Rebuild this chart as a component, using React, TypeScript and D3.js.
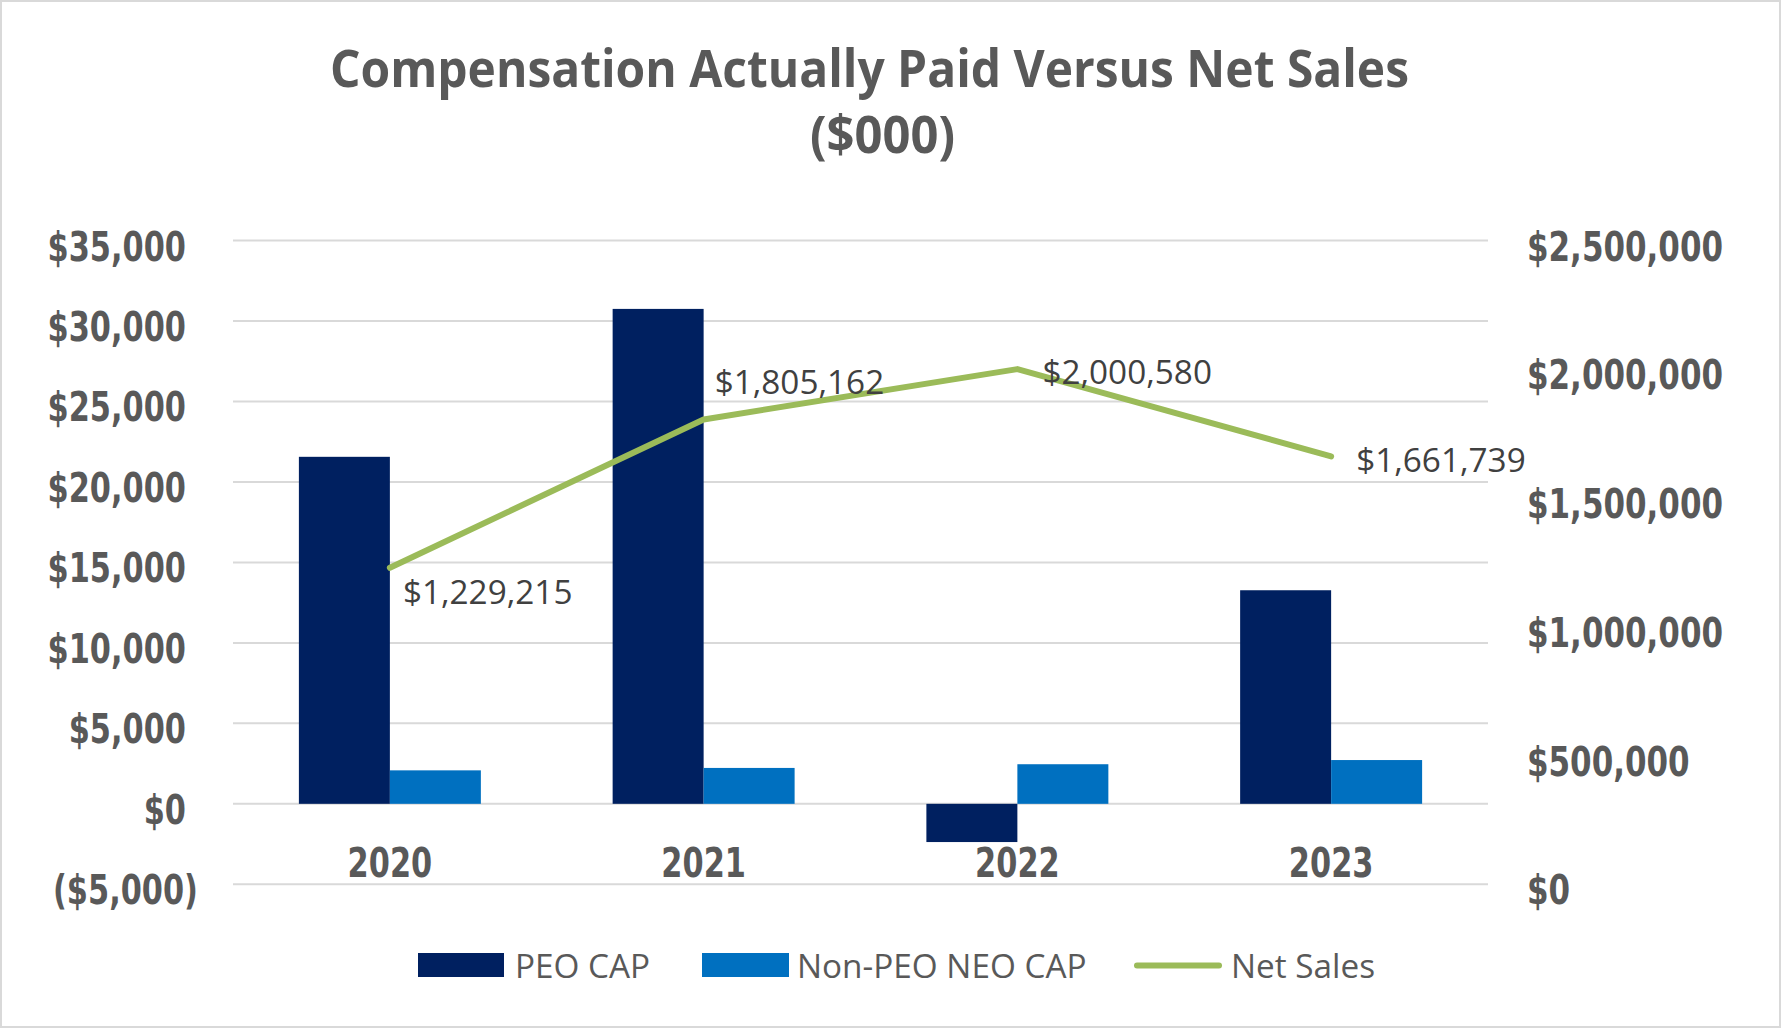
import React from 'react';
import * as d3 from 'd3';

// Fiscal years on the category axis
const years = ['2020', '2021', '2022', '2023'];
// Compensation actually paid, $000 (left axis)
const peoCap = [21560, 30750, -2375, 13270];
const nonPeoCap = [2080, 2230, 2460, 2720];
// Net sales, $000 (right axis)
const netSales = [1229215, 1805162, 2000580, 1661739];
// Axis ticks
const leftTicks = [-5000, 0, 5000, 10000, 15000, 20000, 25000, 30000, 35000];
const rightTicks = [0, 500000, 1000000, 1500000, 2000000, 2500000];
const seriesNames = ['PEO CAP', 'Non-PEO NEO CAP', 'Net Sales'];

// Placement of each net-sales value label relative to its point [dx, dy]
const labelOffsets: [number, number][] = [
  [13, 36],
  [11, -25],
  [25, 15],
  [25, 16],
];

const W = 1782;
const H = 1029;
const PEO_COLOR = '#002060';
const NON_PEO_COLOR = '#0070C0';
const LINE_COLOR = '#9BBB59';
const GRID = '#D9D9D9';
const AXIS_TEXT = '#595959';
const AXIS_FONT = '"DejaVu Sans", Verdana, sans-serif';
const TEXT_FONT = '"Open Sans", "Noto Sans", sans-serif';
const AXIS_SX = 0.76;

const plotLeft = 233;
const plotRight = 1488;
const plotTop = 240.5;
const plotBottom = 884.3;

const fmtMoney = d3.format('$,');
const fmtLeft = (v: number) => (v < 0 ? `(${fmtMoney(-v)})` : fmtMoney(v));

export default function App() {
  const x0 = d3
    .scaleBand<string>()
    .domain(years)
    .range([plotLeft, plotRight])
    .paddingInner(0.42)
    .paddingOuter(0.21);
  const x1 = d3
    .scaleBand<string>()
    .domain(seriesNames.slice(0, 2))
    .range([0, x0.bandwidth()]);
  const yL = d3.scaleLinear().domain([-5000, 35000]).range([plotBottom, plotTop]);
  const yR = d3.scaleLinear().domain([0, 2500000]).range([plotBottom, plotTop]);

  const cx = (yr: string) => (x0(yr) as number) + x0.bandwidth() / 2;
  const linePath = d3
    .line<number>()
    .x((_, i) => cx(years[i]))
    .y((d) => yR(d))(netSales) as string;

  const bars = [
    { name: seriesNames[0], values: peoCap, color: PEO_COLOR },
    { name: seriesNames[1], values: nonPeoCap, color: NON_PEO_COLOR },
  ];

  return (
    <svg
      width={W}
      height={H}
      viewBox={`0 0 ${W} ${H}`}
      style={{ position: 'absolute', left: 0, top: 0, display: 'block', background: '#fff' }}
    >
      <rect x={1} y={1} width={W - 3} height={H - 3} fill="#fff" stroke={GRID} strokeWidth={2} />

      {/* Title */}
      <g fill={AXIS_TEXT} fontFamily={TEXT_FONT} fontWeight={700} fontSize={52}>
        <text x={330} y={86.5} textLength={1079} lengthAdjust="spacingAndGlyphs">
          Compensation Actually Paid Versus Net Sales
        </text>
        <text x={810} y={153} textLength={145} lengthAdjust="spacingAndGlyphs">
          ($000)
        </text>
      </g>

      {/* Gridlines */}
      <g stroke={GRID} strokeWidth={2}>
        {leftTicks.map((t) => (
          <line key={t} x1={plotLeft} x2={plotRight} y1={yL(t)} y2={yL(t)} />
        ))}
      </g>

      {/* Left axis labels */}
      <g fill={AXIS_TEXT} fontFamily={AXIS_FONT} fontWeight={700} fontSize={40}>
        {leftTicks.map((t) => (
          <text
            key={t}
            textAnchor="end"
            transform={`translate(${t < 0 ? 198 : 186},${yL(t) + 20}) scale(${AXIS_SX},1)`}
          >
            {fmtLeft(t)}
          </text>
        ))}
      </g>

      {/* Right axis labels */}
      <g fill={AXIS_TEXT} fontFamily={AXIS_FONT} fontWeight={700} fontSize={40}>
        {rightTicks.map((t) => (
          <text key={t} textAnchor="start" transform={`translate(1527,${yR(t) + 20}) scale(0.775,1)`}>
            {fmtMoney(t)}
          </text>
        ))}
      </g>

      {/* Bars */}
      {bars.map((s) => (
        <g key={s.name} fill={s.color}>
          {s.values.map((v, i) => {
            const x = (x0(years[i]) as number) + (x1(s.name) as number);
            const y0 = yL(0);
            const y = yL(v);
            return (
              <rect
                key={years[i]}
                x={x}
                y={Math.min(y, y0)}
                width={x1.bandwidth()}
                height={Math.abs(y - y0)}
              />
            );
          })}
        </g>
      ))}

      {/* Category labels */}
      <g fill={AXIS_TEXT} fontFamily={AXIS_FONT} fontWeight={700} fontSize={40}>
        {years.map((yr) => (
          <text key={yr} textAnchor="middle" transform={`translate(${cx(yr)},877) scale(${AXIS_SX},1)`}>
            {yr}
          </text>
        ))}
      </g>

      {/* Net sales line */}
      <path d={linePath} fill="none" stroke={LINE_COLOR} strokeWidth={6} strokeLinecap="round" strokeLinejoin="round" />

      {/* Net sales value labels */}
      <g fill="#404040" fontFamily={TEXT_FONT} fontSize={33.3}>
        {netSales.map((v, i) => (
          <text key={years[i]} x={cx(years[i]) + labelOffsets[i][0]} y={yR(v) + labelOffsets[i][1]}>
            {fmtMoney(v)}
          </text>
        ))}
      </g>

      {/* Legend */}
      <g fontFamily={TEXT_FONT} fontSize={33.3} fill={AXIS_TEXT}>
        <rect x={418} y={953} width={86} height={24} fill={PEO_COLOR} />
        <text x={515} y={978}>{seriesNames[0]}</text>
        <rect x={702} y={953} width={87} height={24} fill={NON_PEO_COLOR} />
        <text x={797} y={978}>{seriesNames[1]}</text>
        <line x1={1137} x2={1219} y1={965.5} y2={965.5} stroke={LINE_COLOR} strokeWidth={6} strokeLinecap="round" />
        <text x={1231} y={978}>{seriesNames[2]}</text>
      </g>
    </svg>
  );
}
